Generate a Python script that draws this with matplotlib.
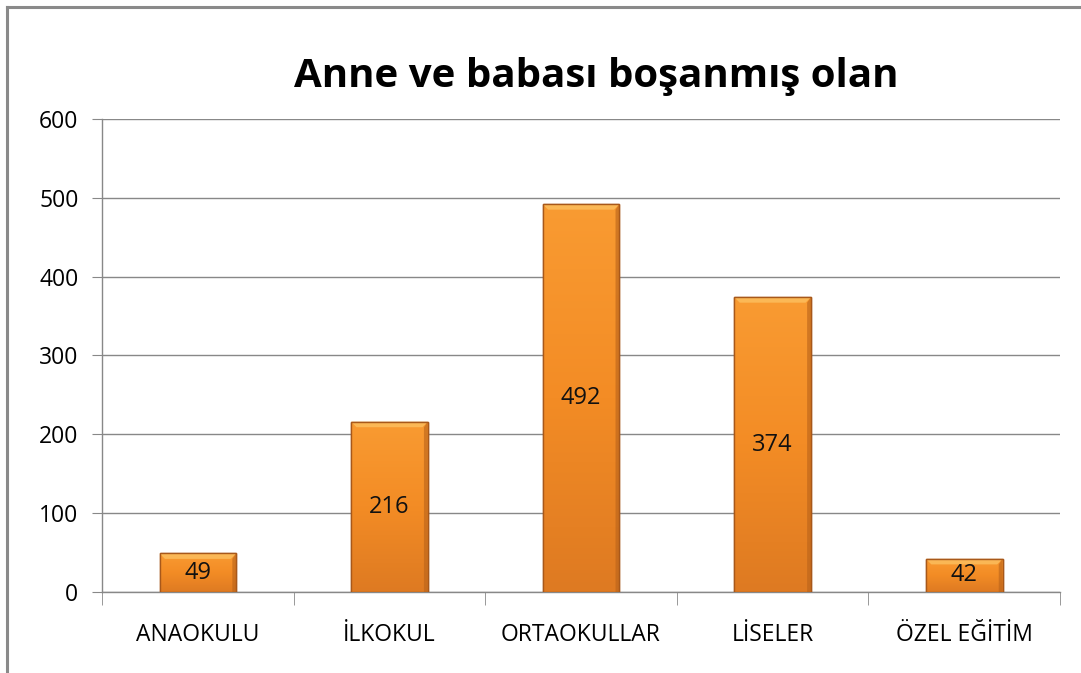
import matplotlib.pyplot as plt
import numpy as np
from matplotlib.colors import LinearSegmentedColormap
from matplotlib.lines import Line2D

categories = ['ANAOKULU', 'İLKOKUL', 'ORTAOKULLAR', 'LİSELER', 'ÖZEL EĞİTİM']
values = [49, 216, 492, 374, 42]
yticks = [0, 100, 200, 300, 400, 500, 600]
title = 'Anne ve babası boşanmış olan'

plt.rcParams['font.family'] = ['Open Sans', 'DejaVu Sans']

fig = plt.figure(figsize=(10.81, 6.73), dpi=100)
ax = fig.add_axes([0.0944, 0.1204, 0.8862, 0.7028])

x = np.arange(len(categories))
bars = ax.bar(x, values, width=0.4, color='#F7941F', edgecolor='#A8581A', linewidth=1.0, zorder=3)

# vertical orange gradient inside each bar
cmap = LinearSegmentedColormap.from_list('org', ['#DE7A22', '#F38C25', '#F99B32'])
grad = np.linspace(0, 1, 256).reshape(-1, 1)
for b in bars:
    x0, w, h = b.get_x(), b.get_width(), b.get_height()
    im = ax.imshow(grad, cmap=cmap, origin='lower', aspect='auto',
                   extent=[x0, x0 + w, 0, h], zorder=3.5)
    im.set_clip_path(b)
    # bevel: light top strip, darker right strip
    ax.fill([x0, x0 + w, x0 + w * 0.93, x0 + w * 0.07],
            [h, h, h - 7, h - 7], color='#FCC060', alpha=0.8, zorder=3.6, lw=0)
    ax.fill([x0 + w, x0 + w, x0 + w * 0.95, x0 + w * 0.95],
            [0, h, h - 7, 0], color='#B8621A', alpha=0.6, zorder=3.6, lw=0)
    ax.add_patch(plt.Rectangle((x0, 0), w, h, fill=False, ec='#A8581A', lw=1.0, zorder=3.7))
    ax.text(b.get_x() + w / 2, h / 2, str(int(h)), ha='center', va='center',
            fontsize=17, color='#111111', zorder=4)

ax.set_xlim(-0.5, len(categories) - 0.5)
ax.set_ylim(0, 600)
ax.set_yticks(yticks)
ax.set_yticklabels([str(v) for v in yticks], fontsize=16.5)
ax.set_xticks(x)
ax.set_xticklabels(categories, fontsize=16.5)
ax.tick_params(axis='x', length=0, pad=22)
ax.tick_params(axis='y', length=7, color='#888888', pad=10)
ax.set_xticks(np.arange(-0.5, len(categories)), minor=True)
ax.tick_params(axis='x', which='minor', length=9, color='#888888')

ax.grid(axis='y', color='#888888', linewidth=1.0, zorder=0)
ax.set_axisbelow(True)
for s in ['top', 'right']:
    ax.spines[s].set_visible(False)
for s in ['left', 'bottom']:
    ax.spines[s].set_color('#888888')
    ax.spines[s].set_linewidth(1.0)

fig.text(0.552, 0.887, title, ha='center', va='center', fontsize=29, fontweight='bold', color='black')

# outer chart frame (left and top)
fig.add_artist(Line2D([7 / 1081, 7 / 1081], [0, 1 - 7 / 673], transform=fig.transFigure,
                      color='#8a8a8a', lw=2.2))
fig.add_artist(Line2D([7 / 1081, 1], [1 - 7 / 673, 1 - 7 / 673], transform=fig.transFigure,
                      color='#8a8a8a', lw=2.2))

fig.savefig('out.png', dpi=100, facecolor='white')
